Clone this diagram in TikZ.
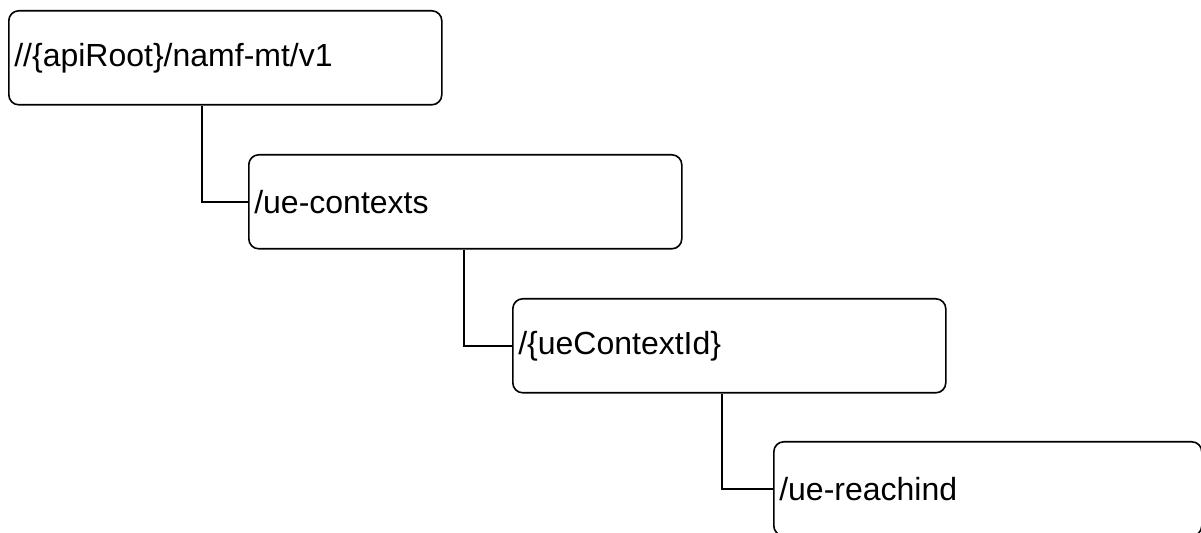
\documentclass[tikz,border=0pt]{standalone}
\usepackage{fontspec}
\setmainfont{Liberation Sans}
\begin{document}
\begin{tikzpicture}[x=0.5pt,y=-0.5pt]
		\tikzstyle{every path}+=[line width=0.8pt]
		\tikzstyle{res}=[draw, rounded corners=5pt, anchor=north west, minimum height=47pt, text width=211pt, inner xsep=2.75pt, align=left, font=\fontsize{16}{19}\selectfont]
		\useasboundingbox (0,0) rectangle (1201,533);
		\node [res] (root) at (8,10) {//\{apiRoot\}/namf-mt/v1};
		\node [res] (ctx) at (248,154) {/ue-contexts};
		\node [res] (ctxid) at (512,298) {/\{ueContextId\}};
		\node [res, text width=208.5pt] (reach) at (773,441) {/ue-reachind};
		\draw (root.south west) ++(194,0) |- (ctx.west);
		\draw (ctx.south west) ++(216,0) |- (ctxid.west);
		\draw (ctxid.south west) ++(210,0) |- (reach.west);
	\end{tikzpicture}
\end{document}
